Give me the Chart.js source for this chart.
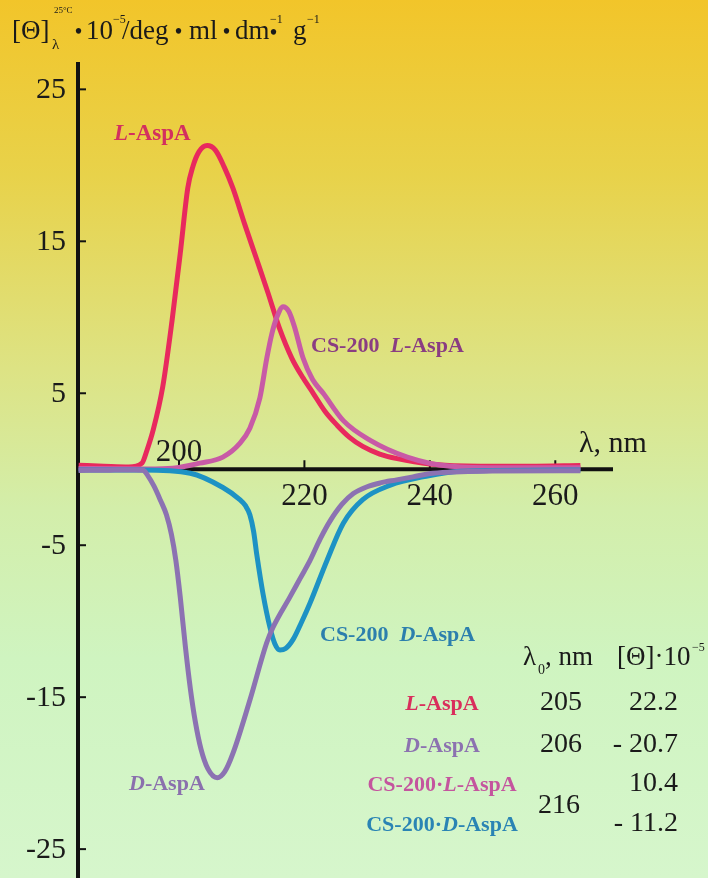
<!DOCTYPE html>
<html>
<head>
<meta charset="utf-8">
<script src="https://cdn.jsdelivr.net/npm/chart.js@4/dist/chart.umd.min.js"></script>
<style>
  html, body { margin: 0; padding: 0; }
  body {
    width: 708px; height: 878px; overflow: hidden;
    background: linear-gradient(to bottom, #f2c52a 0%, #e8d24a 20%, #dde384 42%, #d3eeaa 58%, #cff4c0 75%, #d6f6cc 100%);
  }
  #wrap { position: relative; width: 708px; height: 878px; }
</style>
</head>
<body>
<div id="wrap"><canvas id="cd-chart"></canvas></div>
<script>
// wavelength (nm) and [Θ]·10^-5
const lAspA_nm  = [184, 188, 192, 194.1, 194.9, 195.9, 197.4, 198.9, 200.2, 201.4, 202.2, 203.2, 204.5, 205.8, 207.2, 208.6, 210.5, 212.4, 214.2, 216.0, 218.0, 219.8, 221.4, 223.3, 225.2, 227.2, 229.3, 232, 234.8, 240, 248, 256, 264];
const lAspA_val = [0.26, 0.2, 0.15, 0.4, 1.25, 2.6, 5.4, 9.8, 14.2, 18.5, 19.9, 20.9, 21.3, 21.0, 19.9, 18.5, 16.1, 13.8, 11.6, 9.3, 7.3, 6.0, 5.0, 3.8, 2.9, 2.1, 1.5, 1.0, 0.7, 0.35, 0.2, 0.2, 0.25];

const csL_nm  = [184, 190, 195, 199.0, 203.3, 207.0, 209.7, 211.3, 212.9, 214.0, 214.8, 215.6, 216.6, 217.5, 218.4, 219.8, 221.3, 223.0, 226.2, 230.5, 236.4, 243.2, 252, 264];
const csL_val = [0.05, 0.03, 0.02, 0.07, 0.4, 0.8, 1.7, 2.7, 4.7, 7.3, 8.9, 10.0, 10.7, 10.4, 9.4, 7.3, 5.9, 5.0, 3.2, 1.9, 0.8, 0.2, 0.1, 0.1];

const dAspA_nm  = [184, 189, 193, 194.3, 195.0, 196.0, 197.0, 198.0, 198.8, 199.5, 200.2, 201.0, 201.8, 202.6, 203.5, 204.6, 206.1, 207.3, 208.6, 211.3, 214.0, 215.0, 217.7, 219.3, 220.9, 222.5, 224.1, 226.0, 227.8, 230.0, 232.1, 234.7, 237.3, 240.5, 250, 264];
const dAspA_val = [-0.08, -0.06, -0.05, -0.07, -0.4, -1.1, -2.0, -3.0, -4.3, -6.0, -8.4, -11.6, -14.4, -16.6, -18.4, -19.7, -20.3, -19.9, -18.7, -15.2, -11.4, -10.4, -8.4, -7.2, -6.0, -4.6, -3.4, -2.3, -1.6, -1.15, -0.9, -0.7, -0.5, -0.26, -0.12, -0.1];

const csD_nm  = [184, 190, 194, 201.8, 207.0, 209.7, 210.6, 211.3, 211.9, 212.4, 213.4, 214.5, 215.3, 216.1, 217.0, 218.2, 219.5, 220.9, 223.6, 226.2, 229.3, 233.7, 238.9, 244.8, 264];
const csD_val = [-0.05, -0.05, -0.05, -0.26, -1.2, -2.0, -2.4, -3.0, -4.1, -5.6, -8.2, -10.4, -11.5, -11.9, -11.8, -11.2, -10.1, -8.8, -6.0, -3.55, -2.0, -1.05, -0.5, -0.13, -0.05];

const yTicks = [25, 15, 5, -5, -15, -25];
const xTicks = [200, 220, 240, 260];

// table of extrema
const tableNames  = ['L-AspA', 'D-AspA', 'CS-200·L-AspA', 'CS-200·D-AspA'];
const tableLambda = ['205', '206', '', ''];
const tableTheta  = ['22.2', '- 20.7', '10.4', '- 11.2'];

const RED = '#e8295e', PINK = '#c85aa6', PURPLE = '#8c72b2', BLUE = '#1d92c4';

function pts(xs, ys) {
  return xs.map((x, i) => ({ x: x, y: ys[i] }));
}

function serif(size, style) {
  return (style || '') + ' ' + size + 'px "Liberation Serif", "DejaVu Serif", serif';
}

// label with an italic L/D prefix, e.g. "CS-200 L-AspA"
function drawName(ctx, text, x, y, size, color, align) {
  const m = text.match(/^(.*?)([LD])(-AspA)$/);
  const parts = [[m[1], 'bold'], [m[2], 'italic bold'], [m[3], 'bold']];
  let w = 0;
  parts.forEach(p => { ctx.font = serif(size, p[1]); w += ctx.measureText(p[0]).width; });
  let cx = x;
  if (align === 'center') cx = x - w / 2;
  if (align === 'right') cx = x - w;
  ctx.fillStyle = color;
  ctx.textAlign = 'left';
  ctx.textBaseline = 'alphabetic';
  parts.forEach(p => {
    ctx.font = serif(size, p[1]);
    ctx.fillText(p[0], cx, y);
    cx += ctx.measureText(p[0]).width;
  });
}

const decor = {
  id: 'decor',
  beforeDatasetsDraw(chart) {
    const ctx = chart.ctx;
    const xs = chart.scales.x, ys = chart.scales.y;
    const area = chart.chartArea;
    const x0 = area.left, y0 = ys.getPixelForValue(0);
    ctx.save();
    ctx.strokeStyle = '#111';
    ctx.lineWidth = 4;
    ctx.beginPath();
    ctx.moveTo(x0, area.top);
    ctx.lineTo(x0, area.bottom);
    ctx.stroke();
    ctx.beginPath();
    ctx.moveTo(x0, y0);
    ctx.lineTo(area.right, y0);
    ctx.stroke();

    // tick marks
    ctx.lineWidth = 2;
    yTicks.forEach(v => {
      const py = ys.getPixelForValue(v);
      ctx.beginPath();
      ctx.moveTo(x0, py);
      ctx.lineTo(x0 + 8, py);
      ctx.stroke();
    });
    xTicks.forEach(v => {
      const px = xs.getPixelForValue(v);
      ctx.beginPath();
      ctx.moveTo(px, y0);
      ctx.lineTo(px, y0 - 9);
      ctx.stroke();
    });

    // tick labels
    ctx.fillStyle = '#1a1a1a';
    ctx.font = serif(30);
    ctx.textAlign = 'right';
    ctx.textBaseline = 'middle';
    yTicks.forEach(v => {
      ctx.fillText(String(v), x0 - 12, ys.getPixelForValue(v) + 1);
    });
    ctx.font = serif(31);
    ctx.textAlign = 'center';
    xTicks.forEach((v, i) => {
      const px = xs.getPixelForValue(v);
      if (i === 0) {
        ctx.textBaseline = 'alphabetic';
        ctx.fillText(String(v), px, y0 - 8);
      } else {
        ctx.textBaseline = 'top';
        ctx.fillText(String(v), px, y0 + 12);
      }
    });
    ctx.textAlign = 'left';
    ctx.textBaseline = 'alphabetic';
    ctx.font = serif(30);
    ctx.fillText('λ, nm', 579, 452);
    ctx.restore();
  },
  afterDraw(chart) {
    const ctx = chart.ctx;
    ctx.save();
    ctx.fillStyle = '#1a1a1a';
    ctx.textAlign = 'left';
    ctx.textBaseline = 'alphabetic';

    // y axis title: [Θ]λ^25°C · 10^-5/deg·ml·dm^-1·g^-1
    const big = serif(27), sup = serif(12), dot = serif(20, 'bold');
    const pieces = [
      ['[Θ]', 12, 39, big], ['25°C', 54, 13, serif(9)], ['λ', 52, 49, serif(15)],
      ['•', 75, 38, dot], ['10', 86, 39, big], ['−5', 113, 23, sup],
      ['/deg', 122, 39, big], ['•', 175, 38, dot], ['ml', 189, 39, big],
      ['•', 223, 38, dot], ['dm', 235, 39, big], ['−1', 270, 23, sup],
      ['•', 270, 39, dot], ['g', 293, 39, big], ['−1', 307, 23, sup]
    ];
    pieces.forEach(p => { ctx.font = p[3]; ctx.fillText(p[0], p[1], p[2]); });

    // curve labels
    drawName(ctx, 'L-AspA', 114, 140, 23, '#d3305f', 'left');
    drawName(ctx, 'CS-200  L-AspA', 311, 352, 22, '#8a3d82', 'left');
    drawName(ctx, 'CS-200  D-AspA', 320, 641, 22, '#2c7fad', 'left');
    drawName(ctx, 'D-AspA', 129, 790, 22, '#8a70ad', 'left');

    // table
    ctx.fillStyle = '#1a1a1a';
    ctx.font = serif(27);
    ctx.fillText('λ', 523, 665);
    ctx.font = serif(14);
    ctx.fillText('0', 538, 674);
    ctx.font = serif(27);
    ctx.fillText(', nm', 545, 665);
    ctx.fillText('[Θ]·10', 617, 665);
    ctx.font = serif(12);
    ctx.fillText('−5', 692, 651);

    const rowY = [710, 752, 791, 831];
    const rowColor = ['#d92e5c', '#8c72b0', '#c4559e', '#2a84b4'];
    tableNames.forEach((n, i) => {
      drawName(ctx, n, 442, rowY[i], 22, rowColor[i], 'center');
      ctx.fillStyle = '#1a1a1a';
      ctx.font = serif(28);
      ctx.textAlign = 'center';
      if (tableLambda[i]) ctx.fillText(tableLambda[i], 561, rowY[i]);
      ctx.textAlign = 'right';
      ctx.fillText(tableTheta[i], 678, rowY[i]);
      ctx.textAlign = 'left';
    });
    ctx.textAlign = 'center';
    ctx.fillText('216', 559, 813);
    ctx.restore();
  }
};

function series(label, xs, ys, color) {
  return {
    label: label,
    data: pts(xs, ys),
    borderColor: color,
    borderWidth: 5,
    pointRadius: 0,
    fill: false,
    cubicInterpolationMode: 'monotone'
  };
}

new Chart(document.getElementById('cd-chart'), {
  type: 'line',
  data: {
    datasets: [
      series('D-AspA', dAspA_nm, dAspA_val, PURPLE),
      series('CS-200 D-AspA', csD_nm, csD_val, BLUE),
      series('CS-200 L-AspA', csL_nm, csL_val, PINK),
      series('L-AspA', lAspA_nm, lAspA_val, RED)
    ]
  },
  options: {
    responsive: true,
    maintainAspectRatio: false,
    animation: false,
    layout: { padding: { left: 78, right: 95, top: 62, bottom: 0 } },
    plugins: { legend: { display: false }, tooltip: { enabled: false } },
    scales: {
      x: { type: 'linear', min: 183.9, max: 269.2, display: false },
      y: { type: 'linear', min: -26.9, max: 26.8, display: false }
    }
  },
  plugins: [decor]
});
</script>
</body>
</html>
